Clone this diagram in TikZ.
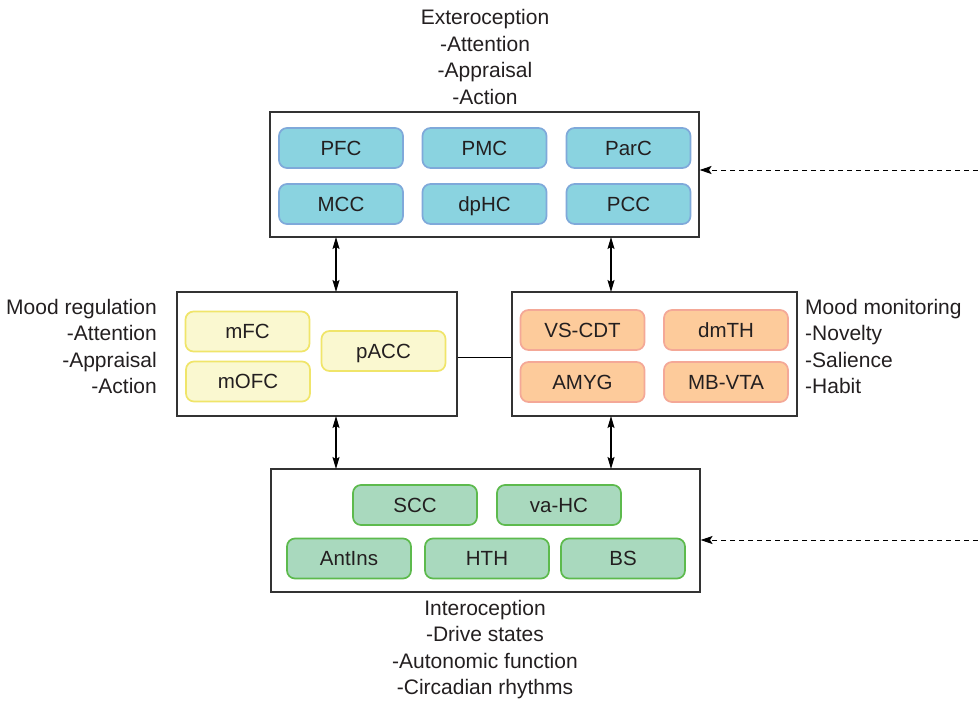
\documentclass[tikz,border=0pt]{standalone}
\usepackage{fontspec}
\setmainfont{Liberation Sans}
\usetikzlibrary{arrows.meta}
\definecolor{cyanfill}{HTML}{8AD3E0}
\definecolor{cyanedge}{HTML}{7FA9DA}
\definecolor{yelfill}{HTML}{FAF8D0}
\definecolor{yeledge}{HTML}{F0E56A}
\definecolor{orfill}{HTML}{FDCB9B}
\definecolor{oredge}{HTML}{F4A897}
\definecolor{grfill}{HTML}{A9D9BE}
\definecolor{gredge}{HTML}{5DBA4D}
\definecolor{txt}{HTML}{231F20}
\tikzset{
  region/.style={rounded corners=8pt, draw, line width=1.7pt, minimum width=124pt, minimum height=40pt, inner sep=0pt, text height=14.6pt, text depth=0pt, font=\fontsize{20.5}{22}\selectfont, text=txt},
  cyanbox/.style={region, fill=cyanfill, draw=cyanedge},
  yelbox/.style={region, fill=yelfill, draw=yeledge},
  orbox/.style={region, fill=orfill, draw=oredge},
  grbox/.style={region, fill=grfill, draw=gredge},
  frame/.style={draw=black!80, line width=1.1pt, fill=white},
  label/.style={font=\fontsize{21}{26.5}\selectfont, text=txt, inner sep=0pt},
  link/.style={line width=1.1pt, {Stealth[length=12pt,width=7pt,inset=2pt]}-{Stealth[length=12pt,width=7pt,inset=2pt]}},
  feed/.style={line width=1pt, dash pattern=on 5pt off 4pt, -{Stealth[length=12pt,width=8pt,inset=2.5pt]}}
}
\begin{document}
\begin{tikzpicture}[x=1pt,y=-1pt]
\useasboundingbox (0,0) rectangle (978,705);
% frames
\node[frame, minimum width=429pt, minimum height=125pt, inner sep=0pt] (ext) at (484.5,174.5) {};
\node[frame, minimum width=280pt, minimum height=124pt, inner sep=0pt] (reg) at (317,354) {};
\node[frame, minimum width=285pt, minimum height=124pt, inner sep=0pt] (mon) at (654.5,354) {};
\node[frame, minimum width=429pt, minimum height=123pt, inner sep=0pt] (int) at (485.5,530.5) {};
% exteroception regions
\node[cyanbox] (pfc) at (341,148) {PFC};
\node[cyanbox] (pmc) at (484.5,148) {PMC};
\node[cyanbox] (parc) at (628.5,148) {ParC};
\node[cyanbox] (mcc) at (341,204) {MCC};
\node[cyanbox] (dphc) at (484.5,204) {dpHC};
\node[cyanbox] (pcc) at (628.5,204) {PCC};
% mood regulation
\node[yelbox] (mfc) at (247.5,331.5) {mFC};
\node[yelbox] (mofc) at (248,381.5) {mOFC};
\node[yelbox] (pacc) at (383.5,351) {pACC};
% mood monitoring
\node[orbox] (vscdt) at (582.5,330) {VS-CDT};
\node[orbox] (dmth) at (726,330) {dmTH};
\node[orbox] (amyg) at (582.5,382) {AMYG};
\node[orbox] (mbvta) at (726,382) {MB-VTA};
% interoception
\node[grbox] (scc) at (415,505) {SCC};
\node[grbox] (vahc) at (559,505) {va-HC};
\node[grbox] (antins) at (349,558.5) {AntIns};
\node[grbox] (hth) at (487,558.5) {HTH};
\node[grbox] (bs) at (623,558.5) {BS};
% labels
\node[label, align=center] (extlab) at (485,57) {Exteroception\\-Attention\\-Appraisal\\-Action};
\node[label, align=right, anchor=east] (reglab) at (157,346.5) {Mood regulation\\-Attention\\-Appraisal\\-Action};
\node[label, align=left, anchor=west] (monlab) at (805,346.5) {Mood monitoring\\ -Novelty\\ -Salience\\ -Habit};
\node[label, align=center] (intlab) at (485,649.5) {Interoception\\-Drive states\\-Autonomic function\\-Circadian rhythms};
% connectors
\coordinate (a1) at (336,237);
\coordinate (a2) at (336,292);
\coordinate (b1) at (611,237);
\coordinate (b2) at (611,292);
\coordinate (c1) at (336,416);
\coordinate (c2) at (336,469);
\coordinate (d1) at (611,416);
\coordinate (d2) at (611,469);
\draw[link] (a1) -- (a2);
\draw[link] (b1) -- (b2);
\draw[link] (c1) -- (c2);
\draw[link] (d1) -- (d2);
\draw[line width=1pt] (reg.east |- 0,357) -- (mon.west |- 0,357);
\coordinate (e1) at (978,170);
\coordinate (e2) at (978,540);
\draw[feed] (e1) -- (ext.east |- e1);
\draw[feed] (e2) -- (int.east |- e2);
\end{tikzpicture}
\end{document}
